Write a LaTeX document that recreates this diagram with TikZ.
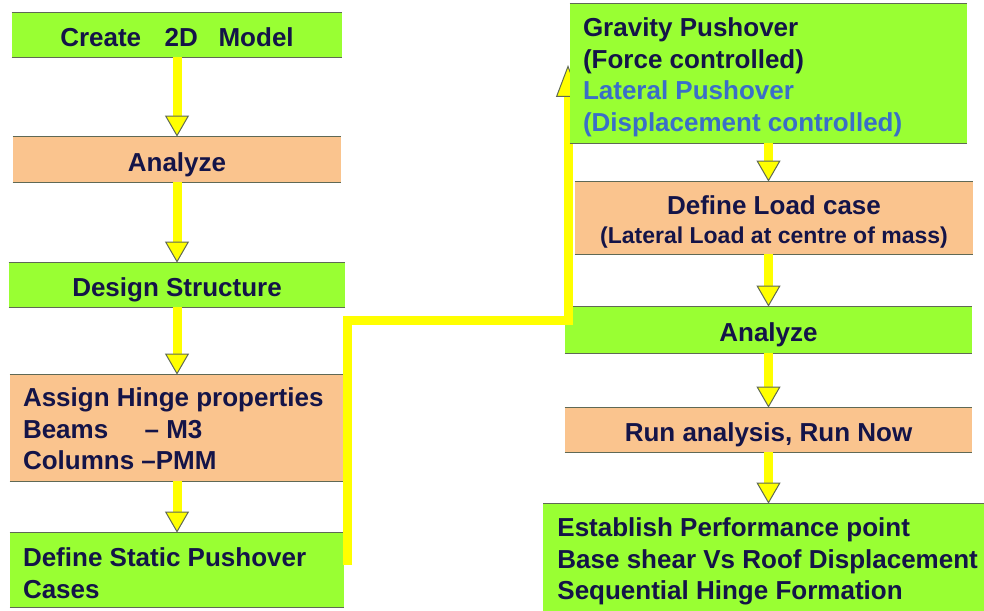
\documentclass[tikz,border=0pt]{standalone}
\usepackage{fontspec}
\setmainfont{Liberation Sans}
\usepackage{xcolor}
\usepackage{tikz}
\usetikzlibrary{arrows.meta}

\definecolor{boxgreen}{RGB}{153,255,51}
\definecolor{boxtan}{RGB}{250,196,142}
\definecolor{flowyellow}{RGB}{255,255,0}
\definecolor{inkblue}{RGB}{20,20,72}
\definecolor{liteblue}{RGB}{58,110,200}
\definecolor{rimgray}{RGB}{95,105,85}

\tikzset{
	yellowhead/.tip={Triangle[width=12pt,length=10.5pt,color=rimgray,fill=flowyellow,line width=0.5pt]},
	flow/.style={draw=flowyellow, line width=4.5pt, -{yellowhead}},
	rim/.style={draw=rimgray, line width=0.6pt},
	stage/.style={font=\fontsize{13}{15.8}\selectfont\bfseries, text=inkblue, inner xsep=6.5pt, inner ysep=0pt,
		append after command={(\tikzlastnode.north west) edge[rim] (\tikzlastnode.north east)
			(\tikzlastnode.south west) edge[rim] (\tikzlastnode.south east)}},
	oneline/.style={text height=11.5pt, text depth=0pt},
	greenstage/.style={stage, fill=boxgreen},
	tanstage/.style={stage, fill=boxtan},
}

\begin{document}
\begin{tikzpicture}[x=0.5pt,y=-0.5pt]
	\path[use as bounding box,clip] (0,0) rectangle (984,610);

	\node[greenstage, oneline, minimum width=165pt, minimum height=22pt] (create) at (177,35) {Create\hspace{0.9em}2D\hspace{0.8em}Model};
	\node[tanstage, oneline, minimum width=164pt, minimum height=22.5pt] (analyzeL) at (177,159.5) {Analyze};
	\node[greenstage, oneline, minimum width=168pt, minimum height=22pt] (design) at (177,285) {Design Structure};
	\node[tanstage, text width=154pt, align=flush left, text height=10.5pt, minimum height=53pt] (hinge) at (177,428) {Assign Hinge properties\\Beams\hspace*{1.4em}– M3\\Columns –PMM};
	\node[greenstage, text width=154pt, align=flush left, text height=12.5pt, minimum height=37pt] (static) at (177,570) {Define Static Pushover\\Cases};

	\node[tanstage, text width=186pt, align=flush center, text height=13.5pt, minimum height=36pt] (loadcase) at (774,218) {Define Load case\\[-1.3pt]{\fontsize{11.5}{14}\selectfont (Lateral Load at centre of mass)}};
	\node[greenstage, oneline, minimum width=203.5pt, minimum height=23pt] (analyzeR) at (768.5,330) {Analyze};
	\node[tanstage, oneline, minimum width=203.5pt, minimum height=22pt] (runnow) at (768.5,430) {Run analysis, Run Now};
	\node[greenstage, anchor=west, text width=215pt, align=flush left, inner xsep=7pt, text height=12pt, minimum height=55pt] (perform) at (543,559) {Establish Performance point\\Base shear Vs Roof Displacement\\Sequential Hinge Formation};

	\coordinate (bend) at (460,320);
	\coordinate (gravtip) at (568,65);
	\draw[flow, -{yellowhead[length=16pt]}] ([xshift=1.75pt,yshift=2.5pt]static.east) |- (bend) -| (gravtip);

	\node[greenstage, text width=185.5pt, align=flush left, text height=13pt, minimum height=69.5pt] (gravity) at (768.5,73.5) {Gravity Pushover\\(Force controlled)\\\textcolor{liteblue}{Lateral Pushover}\\\textcolor{liteblue}{(Displacement controlled)}};

	\draw[flow] (create.south) -- (analyzeL.north);
	\draw[flow] (analyzeL.south) -- (design.north);
	\draw[flow] (design.south) -- (hinge.north);
	\draw[flow] (hinge.south) -- (static.north);

	\draw[flow] (gravity.south) -- (gravity.south |- loadcase.north);
	\draw[flow] (loadcase.south -| gravity) -- (gravity |- analyzeR.north);
	\draw[flow] (analyzeR.south) -- (runnow.north);
	\draw[flow] (runnow.south) -- (runnow.south |- perform.north);
\end{tikzpicture}
\end{document}
